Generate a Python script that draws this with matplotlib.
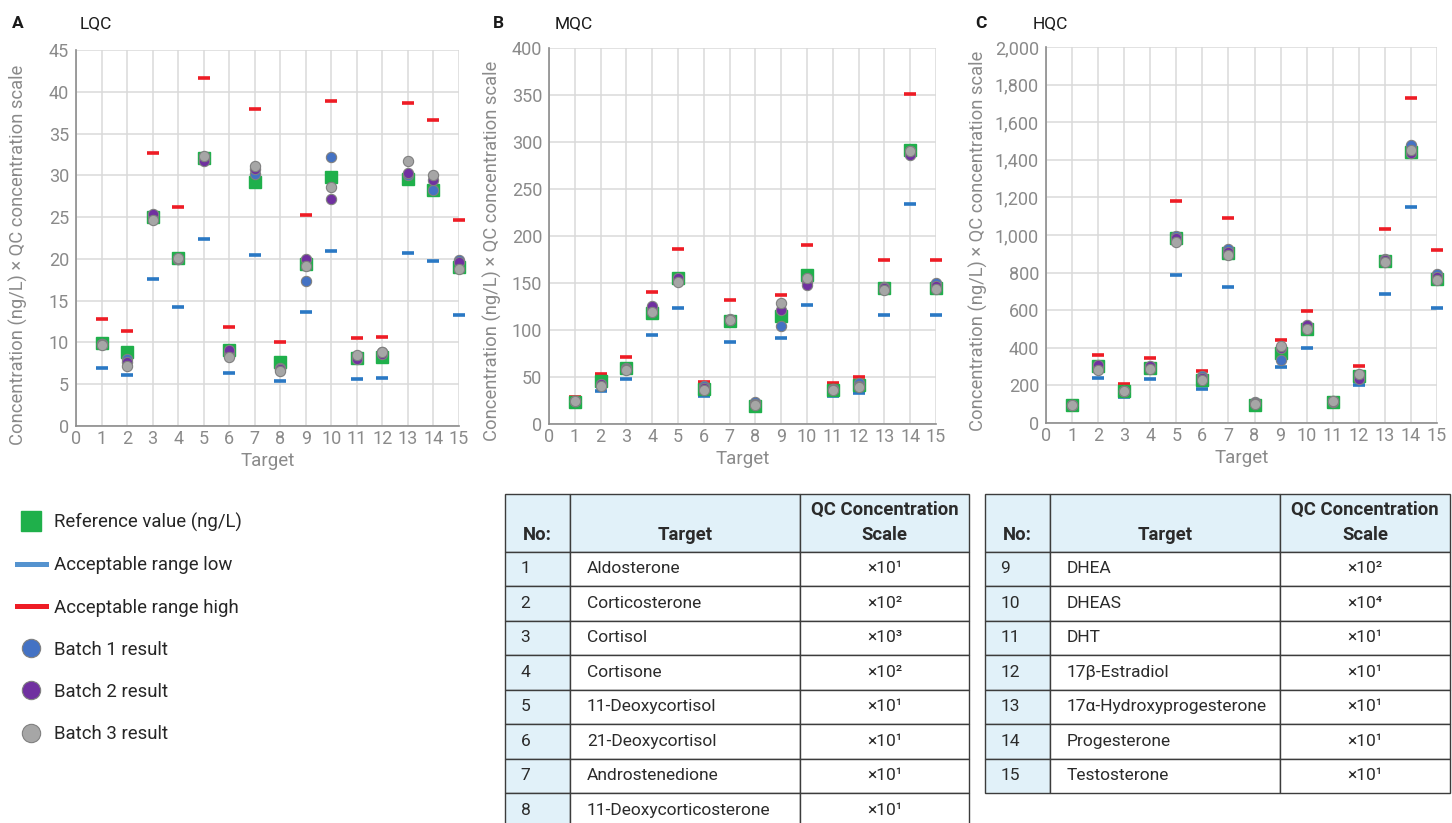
import matplotlib
matplotlib.use('Agg')
import matplotlib.pyplot as plt
from matplotlib.lines import Line2D
from matplotlib.ticker import MultipleLocator, StrMethodFormatter

plt.rcParams['font.family'] = ['Roboto', 'DejaVu Sans']

# Номера мишеней (ось X)
targets = list(range(1, 16))

# LQC
lqc_ref = [9.9, 8.8, 25.0, 20.1, 32.1, 9.1, 29.2, 7.7, 19.4, 29.8, 8.1, 8.2, 29.6, 28.2, 19.0]
lqc_low = [6.9, 6.1, 17.6, 14.2, 22.4, 6.4, 20.5, 5.4, 13.6, 21.0, 5.6, 5.7, 20.7, 19.8, 13.3]
lqc_high = [12.8, 11.4, 32.7, 26.2, 41.6, 11.8, 37.9, 10.0, 25.2, 38.9, 10.5, 10.6, 38.6, 36.6, 24.7]
lqc_b1 = [9.8, 8.0, 25.2, 20.0, 31.8, 8.7, 30.2, 7.0, 17.4, 32.2, 8.2, 8.8, 30.0, 28.3, 19.9]
lqc_b2 = [9.8, 7.6, 25.4, 20.0, 31.7, 9.1, 30.8, 6.8, 20.0, 27.2, 8.0, 8.6, 30.3, 29.4, 19.6]
lqc_b3 = [9.7, 7.2, 24.6, 20.1, 32.3, 8.3, 31.1, 6.6, 19.2, 28.6, 8.5, 8.9, 31.7, 30.0, 18.8]

# MQC
mqc_ref = [23.7, 45.3, 59.1, 117.9, 155.4, 37.2, 110.1, 18.8, 115, 158.6, 36.5, 41.8, 145.1, 292, 145.1]
mqc_low = [18.8, 35.4, 47.4, 94.2, 123.9, 29.7, 87.4, 15.2, 91.7, 126.7, 29.4, 33.3, 115.8, 234, 115.8]
mqc_high = [28.3, 53.1, 70.8, 140.9, 185.8, 44.2, 132, 22.3, 137.7, 190.4, 43.5, 49.9, 174.2, 351.2, 174.2]
mqc_b1 = [24.5, 41.8, 59.5, 123.9, 154, 40, 111.5, 23.4, 104.4, 151.5, 37.5, 43.5, 146, 290.6, 149.7]
mqc_b2 = [24.2, 42.8, 59, 125.3, 155, 38.2, 111, 21.5, 121.4, 147.6, 37, 40.7, 144.4, 285.7, 146.9]
mqc_b3 = [24, 40.7, 57.7, 118.9, 151.5, 36.5, 110.8, 19.8, 128.5, 155.4, 36.5, 38.9, 142.7, 290.6, 144.1]

# HQC
hqc_ref = [94, 301, 172, 290, 982, 230, 906, 94, 372, 499, 111, 251, 860, 1441, 768]
hqc_low = [74, 241, 138, 232, 786, 182, 724, 74, 296, 398, 90, 202, 688, 1150, 614]
hqc_high = [113, 361, 205, 347, 1180, 274, 1088, 115, 444, 598, 131, 303, 1030, 1731, 920]
hqc_b1 = [96, 301, 170, 297, 995, 248, 924, 111, 336, 517, 116, 248, 874, 1480, 791]
hqc_b2 = [95, 310, 170, 304, 982, 242, 912, 105, 398, 522, 114, 234, 867, 1434, 779]
hqc_b3 = [94, 283, 168, 287, 961, 230, 892, 101, 411, 499, 115, 258, 855, 1451, 758]

# Таблица мишеней
target_names = ["Aldosterone", "Corticosterone", "Cortisol", "Cortisone", "11-Deoxycortisol",
                "21-Deoxycortisol", "Androstenedione", "11-Deoxycorticosterone", "DHEA", "DHEAS",
                "DHT", "17β-Estradiol", "17α-Hydroxyprogesterone", "Progesterone", "Testosterone"]
qc_scales = ["×10¹", "×10²", "×10³", "×10²", "×10¹", "×10¹", "×10¹", "×10¹",
             "×10²", "×10⁴", "×10¹", "×10¹", "×10¹", "×10¹", "×10¹"]

GREEN = '#1fb04b'
LOW_BLUE = '#2a78c4'
RED = '#ee1c25'
B1 = '#4472c4'
B2 = '#7030a0'
B3 = '#a6a6a6'
EDGE = '#808080'
GREY_TXT = '#8a8a8a'

W, H = 1452, 823
fig = plt.figure(figsize=(W / 100, H / 100), dpi=100)


def px_rect(x0, x1, y_top, y_bot):
    return [x0 / W, 1 - y_bot / H, (x1 - x0) / W, (y_bot - y_top) / H]


# 1. Построение одной панели
def draw_panel(rect, letter_x, letter, title, ref, low, high, b1, b2, b3, ymax, ystep, ylab_x, ylab_y):
    ax = fig.add_axes(rect)
    ax.set_xlim(0, 15)
    ax.set_ylim(0, ymax)
    ax.set_xticks(range(16))
    ax.yaxis.set_major_locator(MultipleLocator(ystep))
    ax.yaxis.set_major_formatter(StrMethodFormatter('{x:,.0f}'))
    ax.grid(True, color='#dadada', lw=1.1)
    ax.set_axisbelow(True)
    for s in ['top', 'right']:
        ax.spines[s].set_visible(False)
    for s in ['left', 'bottom']:
        ax.spines[s].set_color('#8c8c8c')
        ax.spines[s].set_linewidth(1.2)
    ax.tick_params(length=0, labelsize=13, labelcolor=GREY_TXT)
    ax.tick_params(axis='y', pad=5)
    ax.tick_params(axis='x', pad=3)

    ax.plot(targets, low, ls='none', marker='_', ms=9.2, mew=2.6, color=LOW_BLUE, clip_on=False)
    ax.plot(targets, high, ls='none', marker='_', ms=9.2, mew=2.6, color=RED, clip_on=False)
    ax.plot(targets, ref, ls='none', marker='s', ms=8.8, color=GREEN, mec=GREEN, clip_on=False)
    for vals, col in [(b1, B1), (b2, B2), (b3, B3)]:
        ax.plot(targets, vals, ls='none', marker='o', ms=7.4, mfc=col, mec=EDGE, mew=0.8, clip_on=False)

    ax.set_xlabel('Target', fontsize=13.5, color=GREY_TXT, labelpad=3)
    ax.set_ylabel('Concentration (ng/L) × QC concentration scale', fontsize=13.2, color=GREY_TXT)
    ax.yaxis.set_label_coords(ylab_x, ylab_y)

    fig.text(letter_x[0] / W, 1 - 24 / H, letter, fontsize=12.5, weight='bold', color='#1a1a1a', va='center')
    fig.text(letter_x[1] / W, 1 - 24 / H, title, fontsize=12.5, color='#1a1a1a', va='center')
    return ax


draw_panel(px_rect(76, 459, 50, 426), (12, 80), 'A', 'LQC', lqc_ref, lqc_low, lqc_high,
           lqc_b1, lqc_b2, lqc_b3, 45, 5, -0.125, 0.455)
draw_panel(px_rect(549, 936, 48, 424), (493, 555), 'B', 'MQC', mqc_ref, mqc_low, mqc_high,
           mqc_b1, mqc_b2, mqc_b3, 400, 50, -0.121, 0.46)
draw_panel(px_rect(1046, 1437, 47, 423), (975, 1033), 'C', 'HQC', hqc_ref, hqc_low, hqc_high,
           hqc_b1, hqc_b2, hqc_b3, 2000, 200, -0.148, 0.485)

# 2. Легенда
handles = [
    Line2D([], [], ls='none', marker='s', ms=14.4, color=GREEN),
    Line2D([], [], color=LOW_BLUE, lw=3.6, alpha=0.8),
    Line2D([], [], color=RED, lw=3.6),
    Line2D([], [], ls='none', marker='o', ms=13.2, mfc=B1, mec=EDGE, mew=0.8),
    Line2D([], [], ls='none', marker='o', ms=13.2, mfc=B2, mec=EDGE, mew=0.8),
    Line2D([], [], ls='none', marker='o', ms=13.2, mfc=B3, mec=EDGE, mew=0.8),
]
labels = ['Reference value (ng/L)', 'Acceptable range low', 'Acceptable range high',
          'Batch 1 result', 'Batch 2 result', 'Batch 3 result']
fig.legend(handles, labels, loc='upper left', bbox_to_anchor=(17 / W, 1 - 513 / H),
           frameon=False, fontsize=13.4, labelspacing=1.3, handlelength=1.55,
           handletextpad=0.45, borderpad=0, borderaxespad=0, labelcolor='#262626')

# 3. Таблицы
ax_t = fig.add_axes([0, 0, 1, 1])
ax_t.axis('off')
ax_t.set_xlim(0, 1)
ax_t.set_ylim(0, 1)


def draw_table(rows, x0, x1, y_top, col_w):
    head_h, row_h = 57.5, 34.5
    y_bot = y_top + head_h + row_h * len(rows)
    cell_text = [[str(n), target_names[n - 1], qc_scales[n - 1]] for n in rows]
    tbl = ax_t.table(cellText=cell_text, colLabels=['\nNo:', '\nTarget', 'QC Concentration\nScale'],
                     cellLoc='left', bbox=[x0 / W, 1 - y_bot / H, (x1 - x0) / W, (y_bot - y_top) / H])
    tbl.auto_set_font_size(False)
    tbl.set_fontsize(12.5)
    for (r, c), cell in tbl.get_celld().items():
        cell.set_width(col_w[c])
        cell.set_height(head_h if r == 0 else row_h)
        cell.set_edgecolor('#3c3c3c')
        cell.set_linewidth(1.0)
        cell.set_facecolor('#e1f1f9' if (r == 0 or c == 0) else 'white')
        txt = cell.get_text()
        txt.set_color('#2b2b2b')
        if r == 0:
            txt.set_fontweight('bold')
            txt.set_fontsize(13.3)
            txt.set_linespacing(1.5)
        if c == 0:
            cell.PAD = 0.28 if r == 0 else 0.24
        elif c == 1:
            cell.PAD = 0.074
            if r == 0:
                txt.set_ha('center')
        else:
            txt.set_ha('center')
    return tbl


draw_table(range(1, 9), 505, 969, 494, [65, 230, 169])
draw_table(range(9, 16), 985, 1450, 494, [65, 230, 170])

fig.savefig('out.png', dpi=100)
